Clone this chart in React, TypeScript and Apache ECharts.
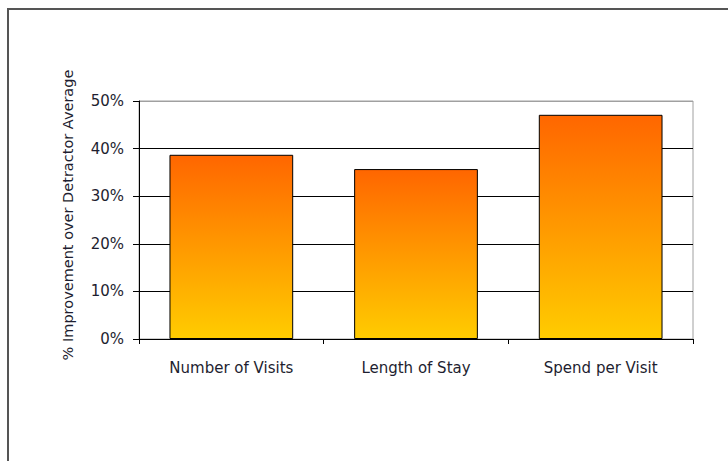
import React, { useEffect, useRef } from "react";
import * as echarts from "echarts";

const categories = ["Number of Visits", "Length of Stay", "Spend per Visit"];
const improvement = [0.387, 0.357, 0.471];
const yTicks = [0, 0.1, 0.2, 0.3, 0.4, 0.5];
const yAxisTitle = "% Improvement over Detractor Average";

export default function App() {
  const ref = useRef<HTMLDivElement>(null);
  useEffect(() => {
    if (!ref.current) return;
    const chart = echarts.init(ref.current, undefined, { renderer: "svg" });
    const font = "DejaVu Sans";
    const textColor = "#1e1e30";
    chart.setOption({
      animation: false,
      backgroundColor: "#fff",
      textStyle: { fontFamily: font },
      graphic: [
        {
          type: "rect",
          shape: { x: 8, y: 9, width: 760, height: 500 },
          style: { fill: "none", stroke: "#555", lineWidth: 2 },
          silent: true,
          z: 100,
        },
        {
          type: "text",
          x: 68,
          y: 215,
          rotation: Math.PI / 2,
          style: {
            text: yAxisTitle,
            fill: textColor,
            font: `14.5px "${font}"`,
            textAlign: "center",
            textVerticalAlign: "middle",
          },
        },
      ],
      grid: {
        left: 139,
        right: 35,
        top: 101,
        bottom: 122,
        show: true,
        borderColor: "#a0a0a0",
        borderWidth: 1,
        backgroundColor: "transparent",
      },
      xAxis: {
        type: "category",
        data: categories,
        axisLine: { lineStyle: { color: "#000", width: 1 } },
        axisTick: { show: true, length: 5, alignWithLabel: false, lineStyle: { color: "#000" } },
        axisLabel: { color: textColor, fontSize: 15, margin: 21, fontFamily: font },
      },
      yAxis: {
        type: "value",
        min: 0,
        max: 0.5,
        interval: 0.1,
        axisLine: { show: true, lineStyle: { color: "#000", width: 1 } },
        axisTick: { show: true, length: 6, lineStyle: { color: "#000" } },
        axisLabel: {
          color: textColor,
          fontSize: 15,
          margin: 15,
          fontFamily: font,
          formatter: (v: number) => `${Math.round(v * 100)}%`,
        },
        splitLine: {
          show: true,
          lineStyle: { color: yTicks.map((t) => (t === 0.5 ? "#a0a0a0" : "#000")), width: 1 },
        },
      },
      series: [
        {
          type: "bar",
          data: improvement,
          barWidth: "67%",
          itemStyle: {
            color: new echarts.graphic.LinearGradient(0, 0, 0, 1, [
              { offset: 0, color: "#ff6600" },
              { offset: 1, color: "#ffcc00" },
            ]),
            borderColor: "#000",
            borderWidth: 1,
          },
        },
      ],
    });
    return () => chart.dispose();
  }, []);
  return (
    <div
      ref={ref}
      style={{ position: "fixed", left: 0, top: 0, width: 728, height: 461 }}
    />
  );
}
